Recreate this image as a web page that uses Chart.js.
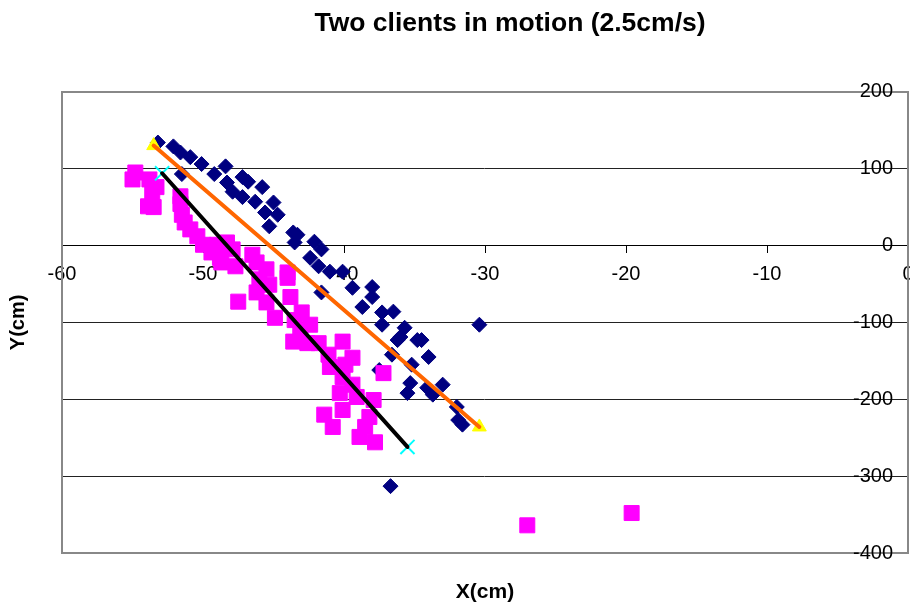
<!DOCTYPE html>
<html>
<head>
<meta charset="utf-8">
<script src="https://cdn.jsdelivr.net/npm/chart.js@4"></script>
<style>
  body { margin: 0; background: #fff; }
  #wrap { width: 910px; height: 608px; }
</style>
</head>
<body>
<div id="wrap"><canvas id="motionChart" width="910" height="608"></canvas></div>
<script>
// client 1 measured positions (cm)
const client1X = [-53.2, -52.1, -51.6, -50.9, -50.1, -51.5, -49.2, -48.4, -48.3, -47.2, -46.8, -45.8, -47.9, -47.2,
    -46.3, -45.0, -44.7, -45.6, -45.3, -43.6, -43.3, -43.5, -42.1, -41.6, -42.4, -41.8, -41.0, -41.6, -40.1, -39.4,
    -38.0, -38.0, -38.7, -37.3, -36.5, -37.3, -35.7, -36.2, -34.5, -30.4, -36.0, -34.8, -36.6, -34.0, -35.2, -37.5,
    -35.3, -35.5, -34.1, -33.7, -33.0, -32.0, -31.6, -31.9, -36.7];
const client1Y = [134, 129, 121, 115, 106, 93, 93, 103, 82, 89, 83, 76, 70, 63,
    57, 56, 40, 43, 25, 17, 14, 4, 5, -5, -16, -27, -34, -61, -34, -55,
    -54, -67, -80, -87, -86, -103, -107, -123, -123, -103, -119, -123, -142, -145, -155, -162,
    -179, -192, -185, -194, -181, -210, -233, -227, -313];

// client 2 measured positions (cm)
const client2X = [-54.8, -55.0, -53.8, -53.3, -53.6, -53.9, -53.5, -51.6, -51.6, -51.5, -51.3, -50.9, -50.4, -50.0,
    -49.4, -49.0, -48.3, -47.9, -48.8, -47.7, -46.5, -46.2, -45.5, -44.0, -48.7, -47.5, -46.0, -46.2, -45.5, -44.9,
    -44.0, -43.8, -43.0, -43.6, -42.6, -41.8, -40.1, -39.4, -41.0, -40.1, -37.2, -40.3, -39.1, -37.9, -41.4, -40.1,
    -40.8, -38.5, -38.9, -37.8, -38.2, -27.0, -19.6, -45.3, -43.5, -42.4, -43.1, -41.1, -39.9, -39.4];
const client2Y = [95, 86, 86, 76, 69, 51, 50, 64, 54, 40, 30, 21, 12, 1,
    -9, 1, 4, -5, -16, -27, -12, -22, -31, -35, -22, -73, -44, -61, -74, -94,
    -42, -67, -87, -125, -127, -127, -125, -146, -158, -171, -166, -192, -197, -201, -220, -214,
    -236, -236, -249, -256, -223, -364, -348, -51, -97, -103, -112, -142, -155, -181];

// actual paths (start, end)
const path1X = [-53.5, -30.4];
const path1Y = [130, -236];
const path2X = [-52.9, -35.5];
const path2Y = [94, -262];

const toPoints = (xs, ys) => xs.map((x, i) => ({ x: x, y: ys[i] }));

Chart.defaults.font.family = "'Liberation Sans', Arial, sans-serif";
Chart.defaults.color = '#000';

// push the title a little right of the canvas centre
const titleShift = {
    id: 'titleShift',
    afterLayout(chart) {
        if (chart.titleBlock) chart.titleBlock.left = 110;
    }
};

// the end tick labels may run past the plot edge instead of shrinking it
const noEdgePadding = (scale) => {
    scale.paddingLeft = 0;
    scale.paddingRight = 0;
    scale.paddingTop = 0;
    scale.paddingBottom = 0;
};

const ctx = document.getElementById('motionChart').getContext('2d');

new Chart(ctx, {
    type: 'scatter',
    data: {
        datasets: [
            {
                label: 'Path 1',
                data: toPoints(path1X, path1Y),
                showLine: true,
                borderColor: '#FF6600',
                borderWidth: 4,
                borderCapStyle: 'round',
                pointRadius: 0
            },
            {
                label: 'Path 2',
                data: toPoints(path2X, path2Y),
                showLine: true,
                borderColor: '#000000',
                borderWidth: 4,
                borderCapStyle: 'round',
                pointRadius: 0
            },
            {
                label: 'Path 1 ends',
                data: toPoints(path1X, path1Y),
                pointStyle: 'triangle',
                pointRadius: 8,
                backgroundColor: '#FFFF00',
                borderColor: '#FFFF00',
                borderWidth: 1
            },
            {
                label: 'Path 2 ends',
                data: toPoints(path2X, path2Y),
                pointStyle: 'crossRot',
                pointRadius: 10,
                borderColor: '#00FFFF',
                borderWidth: 2
            },
            {
                label: 'Client 2',
                data: toPoints(client2X, client2Y),
                pointStyle: 'rect',
                pointRadius: 10.6,
                backgroundColor: '#FF00FF',
                borderColor: '#FF00FF',
                borderWidth: 1
            },
            {
                label: 'Client 1',
                data: toPoints(client1X, client1Y),
                pointStyle: 'rectRot',
                pointRadius: 7.5,
                backgroundColor: '#000080',
                borderColor: '#000080',
                borderWidth: 1
            }
        ]
    },
    options: {
        responsive: false,
        animation: false,
        devicePixelRatio: 1,
        events: [],
        layout: { padding: 0, autoPadding: false },
        plugins: {
            legend: { display: false },
            tooltip: { enabled: false },
            title: {
                display: true,
                text: 'Two clients in motion (2.5cm/s)',
                font: { size: 26.5, weight: 'bold' },
                color: '#000',
                padding: { top: 8, bottom: 52 }
            }
        },
        scales: {
            x: {
                type: 'linear',
                position: { y: 0 },
                min: -60,
                max: 0,
                ticks: { stepSize: 10, padding: 10, font: { size: 20 }, color: '#000', maxRotation: 0 },
                grid: { drawOnChartArea: false, drawTicks: true, tickLength: 7, color: '#000' },
                border: { color: '#000', width: 1 },
                afterFit: noEdgePadding
            },
            xTitle: {
                type: 'linear',
                axis: 'x',
                position: 'bottom',
                min: -60,
                max: 0,
                ticks: { display: false },
                grid: { drawOnChartArea: false, drawTicks: false },
                border: { color: '#888', width: 2 },
                title: {
                    display: true,
                    text: 'X(cm)',
                    font: { size: 21, weight: 'bold' },
                    padding: { top: 0, bottom: 3 }
                },
                afterFit(scale) { noEdgePadding(scale); scale.height = 55; }
            },
            y: {
                type: 'linear',
                position: 'right',
                min: -400,
                max: 200,
                ticks: { stepSize: 100, mirror: true, padding: -15, font: { size: 20 }, color: '#000' },
                grid: {
                    drawTicks: false,
                    color: (c) => (c.tick && (c.tick.value === 200 || c.tick.value === -400)) ? '#888' : '#222',
                    lineWidth: (c) => (c.tick && (c.tick.value === 200 || c.tick.value === -400)) ? 2 : 1
                },
                border: { color: '#888', width: 2 },
                afterFit(scale) { noEdgePadding(scale); scale.width = 2; }
            },
            yTitle: {
                type: 'linear',
                axis: 'y',
                position: 'left',
                min: -400,
                max: 200,
                ticks: { display: false },
                grid: { drawOnChartArea: false, drawTicks: false },
                border: { color: '#888', width: 2 },
                title: {
                    display: true,
                    text: 'Y(cm)',
                    font: { size: 20, weight: 'bold' },
                    padding: { top: 6, bottom: 0 }
                },
                afterFit(scale) { noEdgePadding(scale); scale.width = 62; }
            }
        }
    },
    plugins: [titleShift]
});
</script>
</body>
</html>
